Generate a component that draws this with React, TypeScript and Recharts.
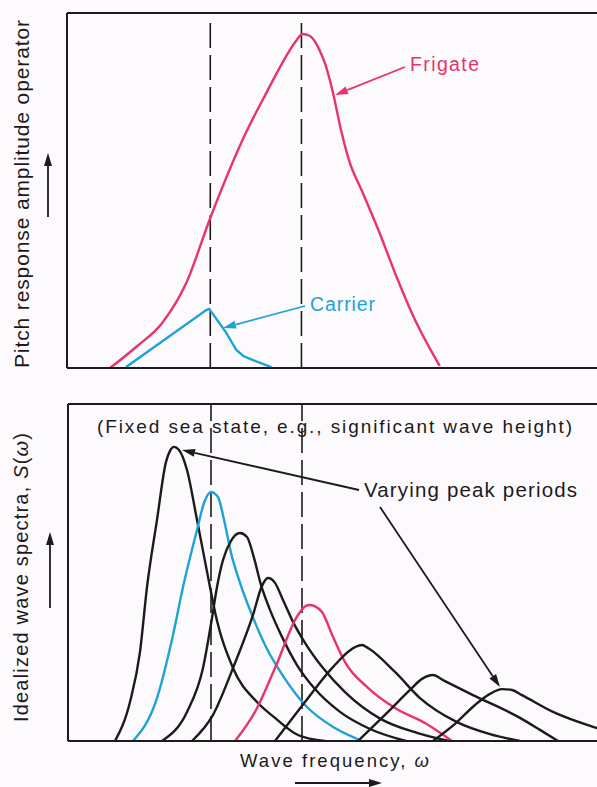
import React from 'react';
import { LineChart, Line, XAxis, YAxis, ReferenceLine } from 'recharts';

type Pt = { x: number; y: number };

// frequency axis (arbitrary units), shared by both panels
const freqMax = 52.9;
const dashedFreqs = [14.3, 23.4];

// top panel: pitch response amplitude operator
const raoMax = 118.3;
const frigate: Pt[] = [
  { x: 4.3, y: 0 }, { x: 6.9, y: 7.0 }, { x: 9.5, y: 15.0 }, { x: 11.9, y: 28.3 },
  { x: 14.3, y: 50.0 }, { x: 17.9, y: 78.7 }, { x: 19.9, y: 91.7 },
  { x: 21.5, y: 101.7 }, { x: 22.8, y: 108.7 }, { x: 23.5, y: 111.3 }, { x: 24.2, y: 110.7 },
  { x: 25.2, y: 106.0 }, { x: 25.8, y: 101.0 }, { x: 26.6, y: 91.0 }, { x: 27.3, y: 80.0 },
  { x: 28.2, y: 68.7 }, { x: 29.4, y: 59.3 }, { x: 31.2, y: 45.0 }, { x: 32.9, y: 30.3 },
  { x: 34.6, y: 17.0 }, { x: 37.2, y: 0.7 },
];
const carrier: Pt[] = [
  { x: 5.9, y: 0.3 }, { x: 13.9, y: 19.3 }, { x: 14.2, y: 19.7 }, { x: 15.9, y: 11.7 },
  { x: 16.9, y: 6.0 }, { x: 17.6, y: 4.0 }, { x: 18.5, y: 2.7 }, { x: 20.4, y: 0.3 },
];

// bottom panel: idealized wave spectra S(w), one per peak period
const specMax = 112.3;
const spec1: Pt[] = [
  { x: 4.7, y: 0 }, { x: 6.2, y: 13.0 }, { x: 7.2, y: 29.7 }, { x: 7.9, y: 51.3 },
  { x: 8.9, y: 73.7 }, { x: 9.8, y: 93.0 }, { x: 10.2, y: 96.7 }, { x: 10.6, y: 98.0 },
  { x: 11.1, y: 97.0 }, { x: 11.9, y: 90.3 }, { x: 12.9, y: 73.7 }, { x: 14.2, y: 51.3 },
  { x: 14.7, y: 43.0 }, { x: 16.5, y: 24.3 }, { x: 18.9, y: 13.0 }, { x: 20.7, y: 7.7 },
  { x: 23.0, y: 2.0 }, { x: 25.7, y: 0 },
];
const spec2: Pt[] = [
  { x: 6.5, y: 0 }, { x: 8.9, y: 14.3 }, { x: 10.5, y: 35.3 }, { x: 11.5, y: 51.3 },
  { x: 12.9, y: 70.3 }, { x: 13.6, y: 79.3 }, { x: 14.3, y: 83.0 }, { x: 15.0, y: 81.3 },
  { x: 15.6, y: 73.7 }, { x: 16.3, y: 62.7 }, { x: 17.2, y: 52.7 }, { x: 18.4, y: 42.0 },
  { x: 19.8, y: 31.3 }, { x: 21.5, y: 21.7 }, { x: 23.7, y: 12.0 }, { x: 26.7, y: 4.3 },
  { x: 29.4, y: 0 },
];
const spec3: Pt[] = [
  { x: 9.4, y: 0 }, { x: 11.9, y: 9.7 }, { x: 13.5, y: 24.3 }, { x: 14.4, y: 41.0 },
  { x: 14.9, y: 51.3 }, { x: 15.5, y: 60.3 }, { x: 16.3, y: 66.7 }, { x: 17.2, y: 69.3 },
  { x: 17.9, y: 68.0 }, { x: 18.6, y: 61.0 }, { x: 19.3, y: 52.0 }, { x: 20.2, y: 43.7 },
  { x: 21.4, y: 34.7 }, { x: 22.9, y: 25.3 }, { x: 24.7, y: 17.3 }, { x: 27.2, y: 9.7 },
  { x: 30.2, y: 4.0 }, { x: 33.8, y: 0 },
];
const spec4: Pt[] = [
  { x: 12.4, y: 0 }, { x: 14.5, y: 8.7 }, { x: 16.5, y: 24.3 }, { x: 18.5, y: 42.0 },
  { x: 19.4, y: 51.7 }, { x: 20.0, y: 54.3 }, { x: 20.7, y: 52.7 }, { x: 21.5, y: 47.0 },
  { x: 22.5, y: 39.7 }, { x: 23.7, y: 32.7 }, { x: 25.5, y: 24.3 }, { x: 27.7, y: 16.3 },
  { x: 31.3, y: 7.3 }, { x: 34.9, y: 2.7 }, { x: 38.1, y: 0 },
];
const spec5: Pt[] = [
  { x: 16.7, y: 0 }, { x: 18.7, y: 9.7 }, { x: 20.7, y: 24.3 }, { x: 23.0, y: 42.0 },
  { x: 23.8, y: 45.0 }, { x: 24.2, y: 45.3 }, { x: 24.8, y: 44.7 }, { x: 25.4, y: 43.0 },
  { x: 26.5, y: 34.7 }, { x: 27.7, y: 26.3 }, { x: 30.0, y: 17.7 }, { x: 32.7, y: 11.0 },
  { x: 35.7, y: 6.0 }, { x: 38.4, y: 0 },
];
const spec6: Pt[] = [
  { x: 20.7, y: 0 }, { x: 23.7, y: 13.0 }, { x: 26.4, y: 24.3 }, { x: 28.7, y: 31.3 },
  { x: 29.4, y: 32.0 }, { x: 30.0, y: 31.0 }, { x: 32.7, y: 23.0 }, { x: 35.2, y: 14.3 },
  { x: 38.9, y: 6.3 }, { x: 42.2, y: 2.3 }, { x: 45.2, y: 0 },
];
const spec7: Pt[] = [
  { x: 29.0, y: 0 }, { x: 32.0, y: 9.7 }, { x: 34.2, y: 17.0 }, { x: 35.4, y: 20.7 },
  { x: 36.5, y: 22.0 }, { x: 37.5, y: 20.3 }, { x: 40.5, y: 15.3 }, { x: 45.2, y: 7.7 },
  { x: 47.2, y: 3.7 }, { x: 49.0, y: 0 },
];
const spec8: Pt[] = [
  { x: 36.5, y: 0 }, { x: 38.7, y: 5.7 }, { x: 40.7, y: 12.0 }, { x: 42.2, y: 15.7 },
  { x: 43.4, y: 17.3 }, { x: 44.4, y: 17.0 }, { x: 45.4, y: 15.3 }, { x: 48.5, y: 9.7 },
  { x: 52.9, y: 4.3 }, { x: 55.2, y: 2.0 }, { x: 58.2, y: 0 },
];

const INK = '#1c1a1c';
const PINK = '#e8336f';
const BLUE = '#1fa2d6';
const FONT = '"Liberation Sans", Arial, Helvetica, sans-serif';

const spectra = [
  { key: 's1', data: spec1, color: INK },
  { key: 's2', data: spec2, color: BLUE },
  { key: 's3', data: spec3, color: INK },
  { key: 's4', data: spec4, color: INK },
  { key: 's5', data: spec5, color: PINK },
  { key: 's6', data: spec6, color: INK },
  { key: 's7', data: spec7, color: INK },
  { key: 's8', data: spec8, color: INK },
];

function Arrow({ x1, y1, x2, y2, color = INK, head = 13, width = 8, sw = 1.8 }: any) {
  const a = Math.atan2(y2 - y1, x2 - x1);
  const bx = x2 - head * Math.cos(a);
  const by = y2 - head * Math.sin(a);
  const px = (-Math.sin(a) * width) / 2;
  const py = (Math.cos(a) * width) / 2;
  return (
    <g>
      <line x1={x1} y1={y1} x2={bx} y2={by} stroke={color} strokeWidth={sw} />
      <polygon points={`${x2},${y2} ${bx + px},${by + py} ${bx - px},${by - py}`} fill={color} />
    </g>
  );
}

export default function App() {
  const lineProps = {
    type: 'monotone' as const,
    dataKey: 'y',
    dot: false,
    strokeWidth: 2.4,
    isAnimationActive: false,
  };

  return (
    <div
      style={{
        position: 'absolute',
        left: 0,
        top: 0,
        width: 597,
        height: 787,
        background: '#fcfafc',
        overflow: 'hidden',
      }}
    >
      <div style={{ position: 'absolute', left: 0, top: 0 }}>
        <LineChart width={597} height={380} margin={{ top: 13, right: 0, left: 67, bottom: 12 }}>
          <XAxis type="number" dataKey="x" domain={[0, freqMax]} hide allowDataOverflow />
          <YAxis type="number" domain={[0, raoMax]} hide allowDataOverflow />
          <ReferenceLine y={raoMax} stroke={INK} strokeWidth={2} />
          {dashedFreqs.map((f) => (
            <ReferenceLine
              key={f}
              segment={[{ x: f, y: 0 }, { x: f, y: 116 }]}
              stroke={INK}
              strokeWidth={1.6}
              strokeDasharray="25 7"
            />
          ))}
          <Line {...lineProps} data={frigate} stroke={PINK} />
          <Line {...lineProps} type="linear" data={carrier} stroke={BLUE} />
          <ReferenceLine x={0} stroke={INK} strokeWidth={2} />
          <ReferenceLine y={0} stroke={INK} strokeWidth={2} />
        </LineChart>
      </div>

      <div style={{ position: 'absolute', left: 0, top: 392 }}>
        <LineChart width={597} height={360} margin={{ top: 12, right: 0, left: 68, bottom: 11 }}>
          <XAxis type="number" dataKey="x" domain={[0, freqMax]} hide allowDataOverflow />
          <YAxis type="number" domain={[0, specMax]} hide allowDataOverflow />
          <ReferenceLine y={specMax} stroke={INK} strokeWidth={2} />
          {dashedFreqs.map((f) => (
            <ReferenceLine key={f} x={f} stroke={INK} strokeWidth={1.6} strokeDasharray="25 7" />
          ))}
          {spectra.map((s) => (
            <Line key={s.key} {...lineProps} data={s.data} stroke={s.color} />
          ))}
          <ReferenceLine x={0} stroke={INK} strokeWidth={2} />
          <ReferenceLine y={0} stroke={INK} strokeWidth={2} />
        </LineChart>
      </div>

      <svg
        width={597}
        height={787}
        style={{ position: 'absolute', left: 0, top: 0, pointerEvents: 'none' }}
        fontFamily={FONT}
      >
        {/* top panel labels */}
        <text
          transform="translate(29,368) rotate(-90)"
          fontSize={21}
          fill={INK}
          textLength={348}
          lengthAdjust="spacing"
        >
          Pitch response amplitude operator
        </text>
        <Arrow x1={48} y1={217} x2={48} y2={153} />
        <text x={410} y={71} fontSize={19.5} fill={PINK} textLength={69} lengthAdjust="spacing">
          Frigate
        </text>
        <Arrow x1={405} y1={67} x2={335} y2={95} color={PINK} />
        <text x={310} y={311} fontSize={19.5} fill={BLUE} textLength={65} lengthAdjust="spacing">
          Carrier
        </text>
        <Arrow x1={305} y1={306} x2={223} y2={328} color={BLUE} />

        {/* bottom panel labels */}
        <text
          transform="translate(28,722) rotate(-90)"
          fontSize={20}
          fill={INK}
          textLength={289}
          lengthAdjust="spacing"
        >
          Idealized wave spectra, <tspan fontStyle="italic">S</tspan>(
          <tspan fontStyle="italic">ω</tspan>)
        </text>
        <Arrow x1={50} y1={608} x2={50} y2={532} />
        <text x={97} y={433} fontSize={19} fill={INK} textLength={475} lengthAdjust="spacing">
          (Fixed sea state, e.g., significant wave height)
        </text>
        <text x={364} y={497} fontSize={20.5} fill={INK} textLength={213} lengthAdjust="spacing">
          Varying peak periods
        </text>
        <Arrow x1={359} y1={490} x2={182} y2={450} />
        <Arrow x1={380} y1={507} x2={500} y2={687} />
        <text x={240} y={767} fontSize={18.5} fill={INK} textLength={189} lengthAdjust="spacing">
          Wave frequency, <tspan fontStyle="italic">ω</tspan>
        </text>
        <Arrow x1={295} y1={783} x2={382} y2={783} />
      </svg>
    </div>
  );
}
